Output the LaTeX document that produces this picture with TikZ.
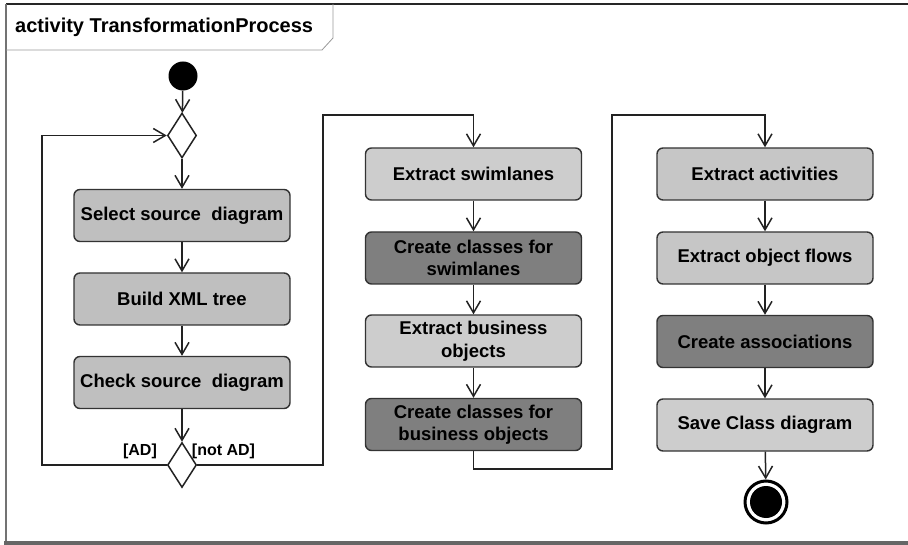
\documentclass[tikz,border=0pt]{standalone}
\usepackage{fontspec}
\setmainfont{Liberation Sans}
\usetikzlibrary{shapes.geometric,arrows.meta}
\definecolor{gleft}{HTML}{BFBFBF}
\definecolor{glight}{HTML}{CDCDCD}
\definecolor{gright}{HTML}{C6C6C6}
\definecolor{gdark}{HTML}{7F7F7F}
\definecolor{edge}{HTML}{333333}
\definecolor{wire}{HTML}{222222}
\begin{document}
\begin{tikzpicture}[x=1pt,y=-1pt,
  act/.style={draw=edge, line width=1.4pt, rounded corners=6pt,
    minimum width=216pt, minimum height=52pt, inner sep=2pt,
    align=center, font=\fontsize{18.5}{22.5}\selectfont\bfseries},
  decision/.style={diamond, draw=wire, line width=1.5pt, fill=white,
    minimum width=29pt, minimum height=45pt, inner sep=0pt},
  flow/.style={draw=wire, line width=1.5pt,
    -{Straight Barb[length=12pt,width=14pt,line width=1.5pt]}},
  guard/.style={font=\fontsize{16}{18}\selectfont\bfseries, inner sep=0pt}]
\useasboundingbox (0,0) rectangle (908,545);

% activity frame
\draw[draw=black!85, line width=2pt] (6,4) -- (908,4);
\draw[draw=black!55, line width=2.5pt] (6,4) -- (6,543);
\draw[draw=black!60, line width=4pt] (4,543) -- (908,543);
\draw[draw=black!40, line width=0.8pt] (6,50) -- (322,50) -- (333,38) -- (333,4);
\node[anchor=base west, inner sep=0pt, font=\fontsize{20}{24}\selectfont\bfseries]
  (title) at (15,33) {activity TransformationProcess};

% control nodes
\node[circle, fill=black, minimum size=29pt, inner sep=0pt] (start) at (183,76) {};
\node[decision] (d1) at (182,135.5) {};
\node[decision] (d2) at (182,465) {};
\node[circle, draw=black, line width=3pt, minimum size=42pt, inner sep=0pt,
  path picture={\fill[black] (path picture bounding box.center) circle (16pt);}]
  (stop) at (766,502) {};

% left column
\node[act, fill=gleft] (sel) at (182,215.5) {Select source\ \ diagram};
\node[act, fill=gleft] (xml) at (182,299) {Build XML tree};
\node[act, fill=gleft] (chk) at (182,382.5) {Check source\ \ diagram};

% middle column
\node[act, fill=glight] (exsw) at (473.5,174) {Extract swimlanes};
\node[act, fill=gdark] (ccs) at (473.5,258) {Create classes for\\swimlanes};
\node[act, fill=glight] (ebo) at (473.5,341) {Extract business\\objects};
\node[act, fill=gdark] (cbo) at (473.5,424.5) {Create classes for\\business objects};

% right column
\node[act, fill=gright] (exact) at (765,174) {Extract activities};
\node[act, fill=gright] (eof) at (765,258) {Extract object flows};
\node[act, fill=gdark] (cas) at (765,341.5) {Create associations};
\node[act, fill=glight] (save) at (765,425) {Save Class diagram};

% routing points
\coordinate (loopx) at (42,135.5);
\coordinate (over1) at (323,115);
\coordinate (low2) at (612,469);
\coordinate (over2) at (612,115);

% flows
\draw[flow] (start) -- (d1);
\draw[flow] (d1) -- (sel);
\draw[flow] (sel) -- (xml);
\draw[flow] (xml) -- (chk);
\draw[flow] (chk) -- (d2);
\draw[flow] (d2.west) -| (loopx) -- (d1.west);
\draw[flow] (d2.east) -| (over1) -| (exsw.north);
\draw[flow] (exsw) -- (ccs);
\draw[flow] (ccs) -- (ebo);
\draw[flow] (ebo) -- (cbo);
\draw[flow] (cbo.south) |- (low2) -- (over2) -| (exact.north);
\draw[flow] (exact) -- (eof);
\draw[flow] (eof) -- (cas);
\draw[flow] (cas) -- (save);
\draw[flow] (save) -- (stop);

% guards
\node[guard] (gad) at (140,451) {[AD]};
\node[guard] (gnot) at (223.5,451) {[not AD]};
\end{tikzpicture}
\end{document}
